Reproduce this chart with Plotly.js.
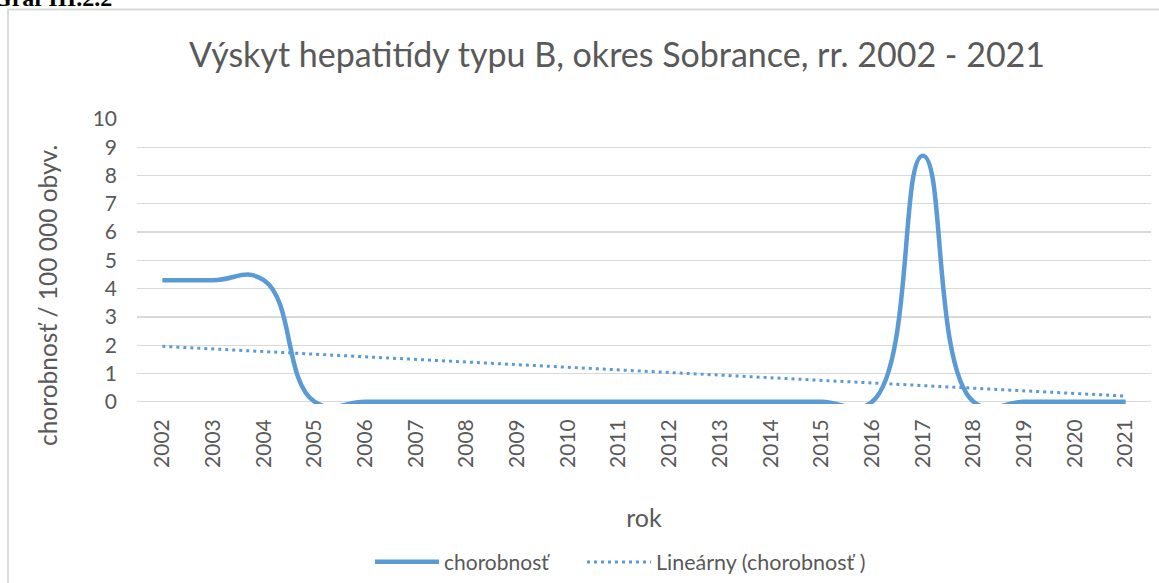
<!DOCTYPE html>
<html>
<head>
<meta charset="utf-8">
<script src="https://cdn.plot.ly/plotly-3.0.1.min.js"></script>
<style>
  html, body { margin: 0; padding: 0; background: #ffffff; }
  #chart { width: 1159px; height: 583px; }
</style>
</head>
<body>
<div id="chart"></div>
<script>
// ---- data ----
const years = ['2002','2003','2004','2005','2006','2007','2008','2009','2010','2011',
               '2012','2013','2014','2015','2016','2017','2018','2019','2020','2021'];
const chorobnost = [4.3, 4.3, 4.3, 0, 0, 0, 0, 0, 0, 0,
                    0, 0, 0, 0, 0, 8.7, 0, 0, 0, 0];
const trendYears = ['2002', '2021'];
const trendValues = [1.96, 0.2];
const yTicks = [0,1,2,3,4,5,6,7,8,9,10];

const chartTitle = 'Výskyt hepatitídy typu B, okres Sobrance, rr. 2002 - 2021';
const xTitle = 'rok';
const yTitle = 'chorobnosť / 100 000 obyv.';
const seriesName = 'chorobnosť';
const trendName = 'Lineárny (chorobnosť )';
const captionText = 'Graf III.2.2';

// ---- layout geometry ----
const W = 1159, H = 583;
const M = {l: 137, r: 8, t: 119, b: 179};
const PW = W - M.l - M.r, PH = H - M.t - M.b;
const px = x => (x - M.l) / PW;           // pixel -> paper x
const py = y => (H - M.b - y) / PH;       // pixel -> paper y

const textColor = '#595959';
const lineColor = '#5B9BD5';
const fontFam = 'Lato, Carlito, "Open Sans", sans-serif';

const traces = [
  {
    type: 'scatter', mode: 'lines',
    x: years, y: chorobnost,
    name: seriesName,
    legend: 'legend',
    line: {color: lineColor, width: 4.5, shape: 'spline', smoothing: 1.3},
    hoverinfo: 'x+y'
  },
  {
    type: 'scatter', mode: 'lines',
    x: trendYears, y: trendValues,
    name: trendName,
    legend: 'legend2',
    line: {color: lineColor, width: 3, dash: '3px,4px'},
    hoverinfo: 'skip'
  }
];

const legendBase = {
  orientation: 'h',
  xref: 'container', xanchor: 'left',
  yref: 'container', y: 1 - 562 / H, yanchor: 'middle',
  font: {family: fontFam, size: 21, color: textColor},
  bgcolor: 'rgba(0,0,0,0)'
};

const layout = {
  width: W, height: H,
  margin: M,
  paper_bgcolor: '#ffffff',
  plot_bgcolor: '#ffffff',
  font: {family: fontFam, color: textColor, size: 21},
  title: {
    text: chartTitle,
    font: {family: fontFam, size: 34, color: textColor},
    xref: 'container', x: 617 / W, xanchor: 'center',
    yref: 'container', y: 1 - 55 / H, yanchor: 'middle'
  },
  showlegend: true,
  legend: Object.assign({}, legendBase, {x: 370 / W, itemwidth: 64}),
  legend2: Object.assign({}, legendBase, {x: 582 / W, itemwidth: 64,
    font: {family: fontFam, size: 21.5, color: textColor}}),
  xaxis: {
    type: 'category',
    range: [-0.5, 19.5],
    tickangle: -90,
    tickfont: {family: fontFam, size: 21, color: textColor},
    showgrid: false,
    showline: false,
    zeroline: false,
    ticks: '',
    ticklabelstandoff: 10,
    fixedrange: true,
    automargin: false,
    title: {
      text: xTitle,
      font: {family: fontFam, size: 25, color: textColor},
      standoff: 42
    }
  },
  yaxis: {
    range: [-0.08, 10],
    tickvals: yTicks,
    ticktext: yTicks.map(String),
    tickfont: {family: fontFam, size: 21, color: textColor},
    showgrid: true,
    gridcolor: '#d9d9d9',
    gridwidth: 1.3,
    zeroline: false,
    showline: false,
    ticks: '',
    ticklabelstandoff: 19,
    fixedrange: true,
    automargin: false
  },
  shapes: [
    {
      type: 'rect', xref: 'paper', yref: 'paper',
      x0: px(8), x1: px(1175), y0: py(9.5), y1: py(600),
      line: {color: '#d9d9d9', width: 2},
      fillcolor: 'rgba(0,0,0,0)',
      layer: 'below'
    }
  ],
  annotations: [
    {
      text: yTitle,
      xref: 'paper', yref: 'paper',
      x: px(47), y: py(296),
      xanchor: 'center', yanchor: 'middle',
      textangle: -90,
      showarrow: false,
      font: {family: fontFam, size: 24.5, color: textColor}
    },
    {
      text: '<b>' + captionText + '</b>',
      xref: 'paper', yref: 'paper',
      x: px(-9), y: py(13),
      xanchor: 'left', yanchor: 'bottom',
      showarrow: false,
      font: {family: '"Liberation Serif", "DejaVu Serif", serif', size: 24, color: '#000000'}
    }
  ]
};

Plotly.newPlot('chart', traces, layout, {displayModeBar: false, staticPlot: true});
</script>
</body>
</html>
